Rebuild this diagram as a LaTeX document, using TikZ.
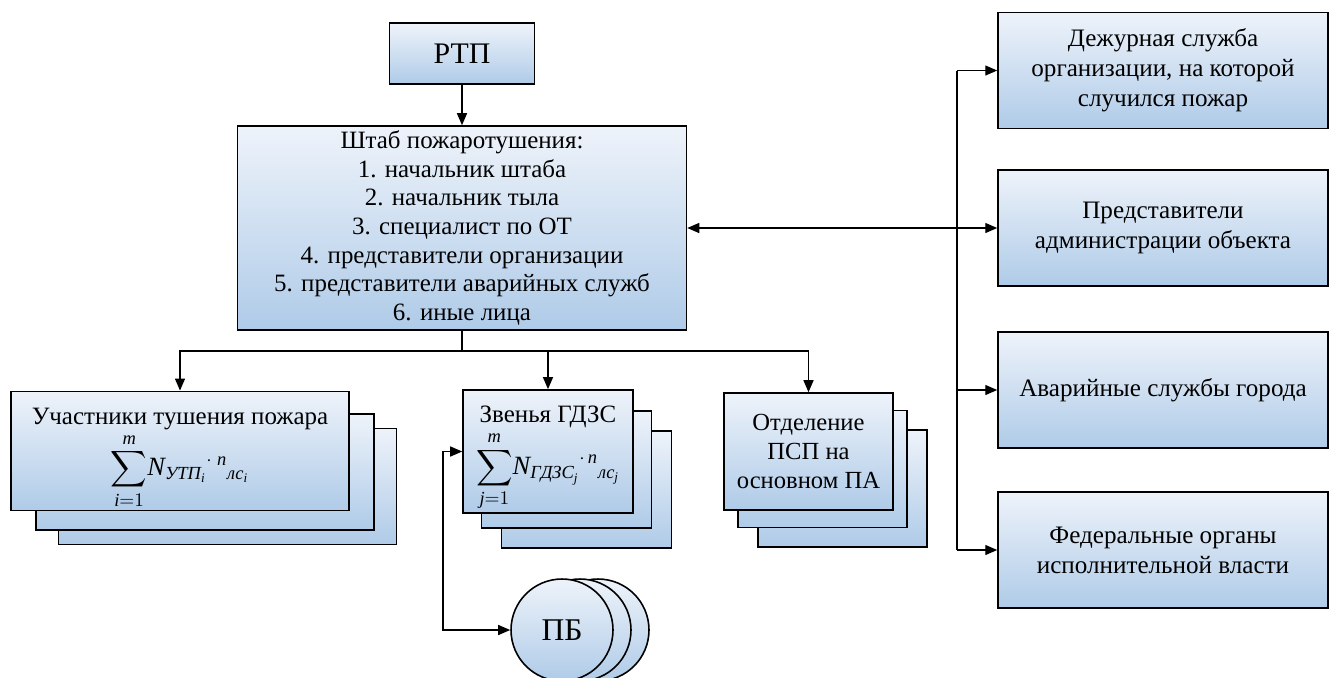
\documentclass[tikz,border=0pt]{standalone}
\usepackage{fontspec}
\usepackage{amsmath}
\setmainfont{Liberation Serif}
\usetikzlibrary{arrows.meta,positioning,calc}
\definecolor{boxTop}{HTML}{EEF3FA}
\definecolor{boxBot}{HTML}{AFCBE8}
\newcommand{\bigmath}{\fontsize{15}{16}\selectfont}
\newcommand{\topgap}{\rule{0pt}{0.62cm}}

\begin{document}
\begin{tikzpicture}[x=0.02cm,y=-0.02cm,
    box/.style={draw=black,line width=0.9pt,top color=boxTop,bottom color=boxBot,
      align=center,inner sep=1pt,font=\fontsize{14.2}{16.3}\selectfont},
    uchbox/.style={box,minimum width=6.76cm,minimum height=2.32cm},
    zvbox/.style={box,minimum width=3.40cm,minimum height=2.34cm},
    otdbox/.style={box,minimum width=3.38cm,minimum height=2.34cm},
    sidebox/.style={box,minimum width=6.60cm,minimum height=2.32cm,font=\fontsize{14.3}{17}\selectfont},
    pbcirc/.style={box,circle,minimum size=2.04cm,inner sep=0pt,font=\fontsize{18}{20}\selectfont},
    link/.style={line width=0.75pt},
    arr/.style={link,-{Triangle[length=2.4mm,width=2mm]}},
    darr/.style={link,{Triangle[length=2.4mm,width=2mm]}-{Triangle[length=2.4mm,width=2mm]}}]
  \useasboundingbox (0,0) rectangle (1335,677);

  % top
  \node[box,minimum width=2.90cm,minimum height=1.22cm,font=\fontsize{17}{20}\selectfont] (rtp) at (462,53.5) {РТП};
  \node[box,minimum width=8.98cm,minimum height=4.08cm] (shtab) at (462,228)
    {Штаб пожаротушения:\\1. начальник штаба\\2. начальник тыла\\3. специалист по ОТ\\
     4. представители организации\\5. представители аварийных служб\\6. иные лица};

  % stacks
  \node[uchbox] (uchC) at (227.5,486.5) {};
  \node[uchbox] (uchB) at (205,472) {};
  \node[uchbox] (uch) at (180,451)
    {\topgap Участники тушения пожара\\[1pt]
     {\bigmath$\displaystyle\sum_{\textit{i}=1}^{\textit{m}}\!\textit{N}_{\textit{УТП}_{\textit{i}}}{}^{\cdot\;\textit{n}}{}_{\textit{лс}_{\textit{i}}}$}};
  \node[zvbox] (zvC) at (586.5,489.5) {};
  \node[zvbox] (zvB) at (566.5,469.5) {};
  \node[zvbox] (zv) at (548,451.5)
    {\topgap Звенья ГДЗС\\[1pt]
     {\bigmath$\displaystyle\sum_{\textit{j}=1}^{\textit{m}}\!\textit{N}_{\textit{ГДЗС}_{\textit{j}}}{}^{\cdot\,\textit{n}}{}_{\textit{лс}_{\textit{j}}}$}};
  \node[otdbox] (otdC) at (842.5,488.5) {};
  \node[otdbox] (otdB) at (822.5,469) {};
  \node[otdbox,font=\fontsize{14}{16.5}\selectfont] (otd) at (808.5,451.5) {Отделение\\ПСП на\\основном ПА};

  \node[pbcirc] (pbC) at (598,630) {};
  \node[pbcirc] (pbB) at (580,630) {};
  \node[pbcirc] (pb) at (562,630) {ПБ};

  % right column
  \node[sidebox] (dej) at (1163,70.5) {Дежурная служба\\организации, на которой\\случился пожар};
  \node[sidebox] (adm) at (1163,228) {Представители\\администрации объекта};
  \node[sidebox] (avar) at (1163,390) {Аварийные службы города};
  \node[sidebox] (fed) at (1163,550) {Федеральные органы\\исполнительной власти};

  \coordinate (split) at (462,351);
  \coordinate (bus) at (957,0);
  \coordinate (fb) at (443,0);

  \draw[arr] (rtp) -- (shtab);
  \draw[link] (shtab.south) -- (split);
  \draw[arr] (split) -| (uch.north);
  \draw[arr] (split) -| (zv.north);
  \draw[arr] (split) -| (otd.north);
  \draw[darr] (zv.west) -- (zv.west -| fb) |- (pb.west);
  \draw[darr] (shtab.east) -- (adm.west);
  \draw[link] (bus |- dej.west) -- (bus |- fed.west);
  \draw[arr] (bus |- dej.west) -- (dej.west);
  \draw[arr] (bus |- avar.west) -- (avar.west);
  \draw[arr] (bus |- fed.west) -- (fed.west);
\end{tikzpicture}
\end{document}
